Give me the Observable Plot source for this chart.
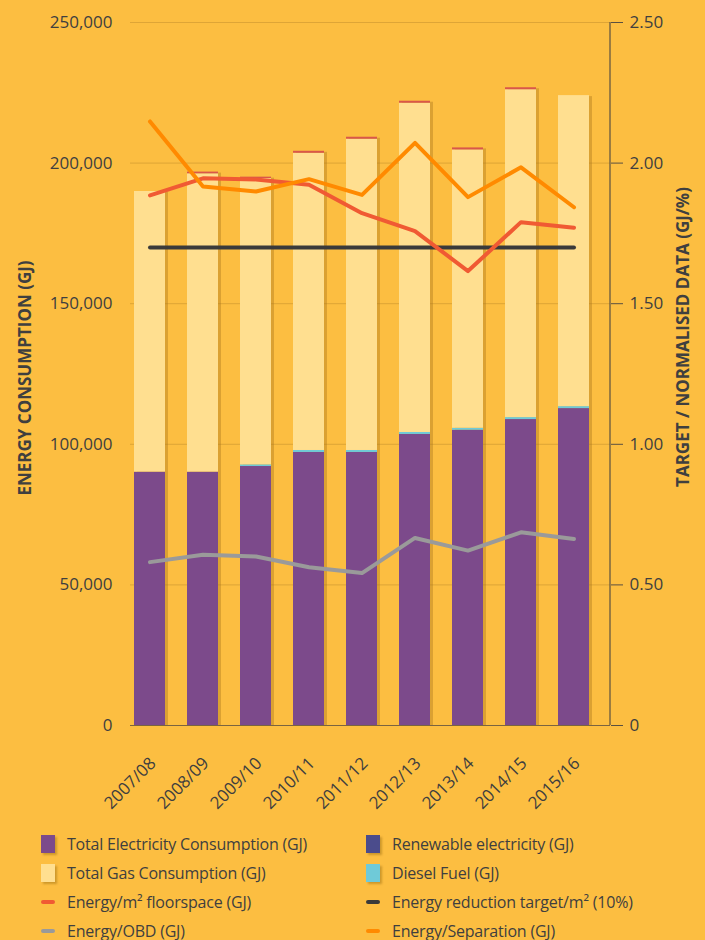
<!DOCTYPE html>
<html>
<head>
<meta charset="utf-8">
<script src="https://cdn.jsdelivr.net/npm/d3@7"></script>
<script src="https://cdn.jsdelivr.net/npm/@observablehq/plot@0.6"></script>
<style>
  html, body { margin: 0; padding: 0; background: #FCBE41; }
  body { width: 705px; height: 940px; overflow: hidden; font-family: "Open Sans", Lato, sans-serif; color: #3f3f3f; }
  #chart svg { display: block; background: transparent; }
  .legend { display: grid; grid-template-columns: 325px 330px; padding-left: 41px; margin-top: 4px; }
  .item { display: flex; align-items: center; height: 29px; font-size: 16px; letter-spacing: -0.2px; }
  .sw { width: 14px; margin-right: 12px; flex: none; }
  .sw.box { height: 18px; box-shadow: 2px 2px 2px rgba(120,80,0,0.35); }
  .sw.ln { height: 4px; border-radius: 2px; }
</style>
</head>
<body>
<div id="chart"></div>
<div class="legend" id="legend"></div>
<script>
const years = ["2007/08","2008/09","2009/10","2010/11","2011/12","2012/13","2013/14","2014/15","2015/16"];
const electricity = [90100, 90100, 92100, 97100, 97100, 103500, 105000, 108800, 112700];
const diesel      = [0, 0, 600, 700, 700, 700, 700, 700, 700];
const gas         = [99800, 106100, 101800, 105700, 110700, 117100, 99000, 116600, 110600];
const renewable   = [0, 600, 500, 700, 700, 700, 700, 700, 0];
const floorspace  = [1.885, 1.946, 1.942, 1.923, 1.822, 1.758, 1.616, 1.790, 1.770];
const obd         = [0.581, 0.607, 0.601, 0.563, 0.542, 0.667, 0.622, 0.687, 0.663];
const separation  = [2.148, 1.917, 1.899, 1.943, 1.887, 2.072, 1.879, 1.985, 1.843];
const target      = [1.70, 1.70, 1.70, 1.70, 1.70, 1.70, 1.70, 1.70, 1.70];
const leftTicks   = [0, 50000, 100000, 150000, 200000, 250000];
const rightTicks  = [0, 0.5, 1.0, 1.5, 2.0, 2.5];

const seriesNames = ["Total Electricity Consumption (GJ)", "Diesel Fuel (GJ)", "Total Gas Consumption (GJ)", "Renewable electricity (GJ)"];
const seriesColors = ["#7C4A8B", "#6FCAD8", "#FFDF90", "#D9574A"];
const seriesValues = [electricity, diesel, gas, renewable];
const bars = [];
seriesNames.forEach((s, i) => years.forEach((y, j) => bars.push({year: y, series: s, value: seriesValues[i][j]})));
const totals = years.map((y, j) => ({year: y, value: seriesValues.reduce((a, v) => a + v[j], 0)}));

const RATIO = 100000; // right axis 2.50 == 250,000 on left axis
const lineDefs = [
  {name: "Energy/OBD (GJ)", values: obd, color: "#9A9A9A"},
  {name: "Energy reduction target/m² (10%)", values: target, color: "#3A3A3A"},
  {name: "Energy/m² floorspace (GJ)", values: floorspace, color: "#F05A33"},
  {name: "Energy/Separation (GJ)", values: separation, color: "#FF8A00"}
];

const ink = "#3f3f3f";
const font = "'Open Sans', Lato, sans-serif";
const rightAxisLine = (index, scales, values, dims) => {
  const x = dims.width - dims.marginRight;
  const l = d3.create("svg:line")
    .attr("x1", x).attr("x2", x)
    .attr("y1", dims.marginTop).attr("y2", dims.height - dims.marginBottom)
    .attr("stroke", "#5a5040").attr("stroke-width", 1.2);
  return l.node();
};

const chart = Plot.plot({
  width: 705,
  height: 825,
  marginLeft: 114,
  marginRight: 95,
  marginTop: 22,
  marginBottom: 100,
  style: {fontFamily: font, fontSize: "17px", color: ink, background: "transparent"},
  x: {domain: years, paddingInner: 0.407, paddingOuter: 0.3, label: null},
  y: {domain: [0, 250000], label: null},
  color: {domain: seriesNames, range: seriesColors},
  marks: [
    Plot.ruleY(leftTicks.slice(1), {stroke: "#C9952F", strokeOpacity: 0.6, insetLeft: 16}),
    Plot.barY(totals, {x: "year", y: "value", fill: "#a9761c", fillOpacity: 0.4, dx: 3, dy: 1}),
    Plot.barY(bars, Plot.stackY({x: "year", y: "value", fill: "series", order: seriesNames, inset: 0})),
    Plot.ruleY([0], {stroke: "#7a6440", strokeWidth: 1.2, insetLeft: 16}),
    ...lineDefs.map(l => Plot.line(years.map((y, i) => ({year: y, v: l.values[i] * RATIO})),
      {x: "year", y: "v", stroke: l.color, strokeWidth: 4, strokeLinecap: "round", strokeLinejoin: "round"})),
    Plot.axisY({ticks: leftTicks, tickFormat: d3.format(","), tickSize: 0, tickPadding: 2, fontSize: 17, label: null}),
    Plot.axisY({anchor: "right", ticks: rightTicks.map(t => t * RATIO), tickFormat: d => d === 0 ? "0" : (d / RATIO).toFixed(2),
      tickSize: 12, tickPadding: 7, fontSize: 17, stroke: "#5a5040", label: null}),
    rightAxisLine,
    Plot.axisX({tickRotate: -45, tickSize: 0, tickPadding: 14, dx: 3, dy: 21, fontSize: 17, label: null}),
    Plot.text(["ENERGY CONSUMPTION (GJ)"], {frameAnchor: "left", textAnchor: "middle", dx: -89, dy: 4, rotate: -90, fontSize: 17, fontWeight: "bold", fill: ink}),
    Plot.text(["TARGET / NORMALISED DATA (GJ/%)"], {frameAnchor: "right", textAnchor: "middle", dx: 73, dy: -37, rotate: -90, fontSize: 17, fontWeight: "bold", fill: ink})
  ]
});
document.getElementById("chart").appendChild(chart);

const legendItems = [
  {label: "Total Electricity Consumption (GJ)", color: "#7C4A8B", type: "box"},
  {label: "Renewable electricity (GJ)", color: "#4B4C8C", type: "box"},
  {label: "Total Gas Consumption (GJ)", color: "#FFDF90", type: "box"},
  {label: "Diesel Fuel (GJ)", color: "#6FCAD8", type: "box"},
  {label: "Energy/m² floorspace (GJ)", color: "#F05A33", type: "ln"},
  {label: "Energy reduction target/m² (10%)", color: "#3A3A3A", type: "ln"},
  {label: "Energy/OBD (GJ)", color: "#9A9A9A", type: "ln"},
  {label: "Energy/Separation (GJ)", color: "#FF8A00", type: "ln"}
];
const lg = document.getElementById("legend");
legendItems.forEach(it => {
  const d = document.createElement("div");
  d.className = "item";
  const s = document.createElement("span");
  s.className = "sw " + it.type;
  s.style.background = it.color;
  const t = document.createElement("span");
  t.textContent = it.label;
  d.appendChild(s); d.appendChild(t);
  lg.appendChild(d);
});
</script>
</body>
</html>
